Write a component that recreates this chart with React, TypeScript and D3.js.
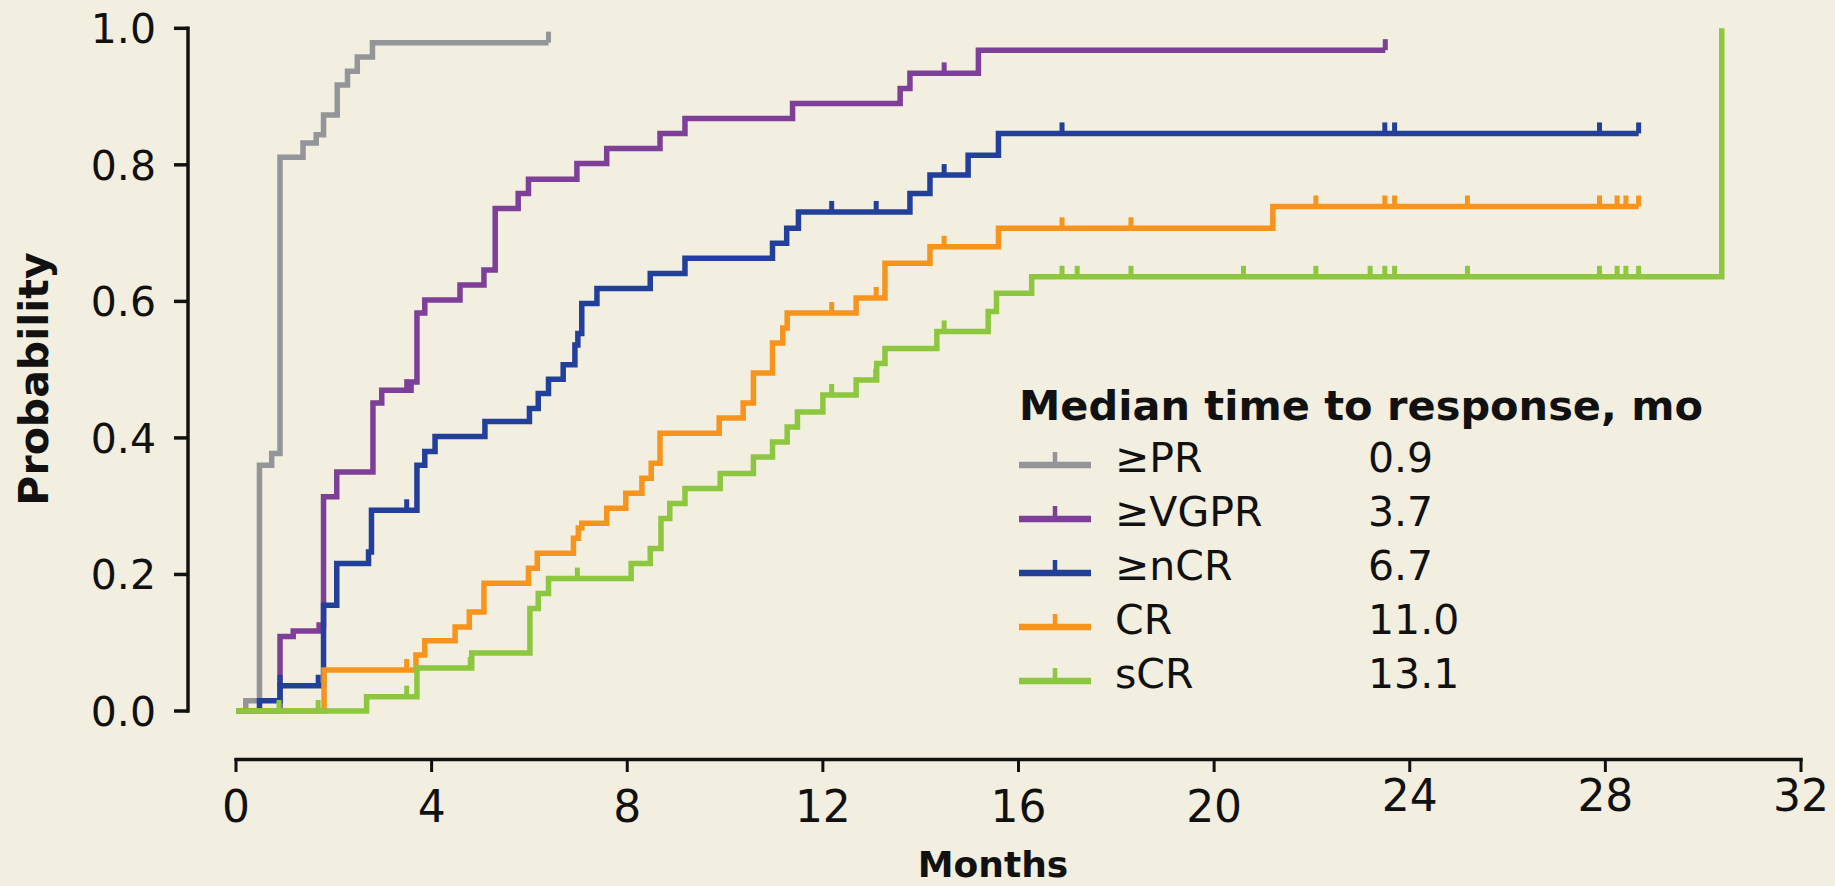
import React from "react";
import * as d3 from "d3";

const xTicks = [0, 4, 8, 12, 16, 20, 24, 28, 32];
const yTicks = [0, 0.2, 0.4, 0.6, 0.8, 1.0];

const seriesNames = ["≥PR", "≥VGPR", "≥nCR", "CR", "sCR"];
const medians = ["0.9", "3.7", "6.7", "11.0", "13.1"];
const colors = ["#939598", "#7e3f98", "#22409a", "#f7941d", "#8dc63f"];

const prTimes = [0.2, 0.48, 0.73, 0.9, 1.37, 1.64, 1.79, 2.07, 2.28, 2.48, 2.79];
const prValues = [0.015, 0.36, 0.377, 0.811, 0.832, 0.844, 0.873, 0.917, 0.937, 0.958, 0.979];
const prCensor = [6.39];
const prEnd = 6.39;

const vgprTimes = [0.9, 1.17, 1.7, 1.79, 2.06, 2.8, 2.98, 3.58, 3.7, 3.86, 4.58, 5.07, 5.3, 5.77, 5.98, 6.97, 7.58, 8.67, 9.18, 11.38, 13.58, 13.78, 15.18];
const vgprValues = [0.109, 0.117, 0.126, 0.314, 0.35, 0.451, 0.47, 0.482, 0.583, 0.602, 0.624, 0.646, 0.736, 0.758, 0.779, 0.802, 0.824, 0.846, 0.868, 0.89, 0.912, 0.934, 0.968];
const vgprCensor = [3.49, 14.48, 23.5];
const vgprEnd = 23.5;

const ncrTimes = [0.48, 0.9, 1.79, 2.06, 2.71, 2.77, 3.7, 3.86, 4.07, 5.09, 6.0, 6.18, 6.39, 6.69, 6.93, 6.99, 7.07, 7.38, 8.47, 9.18, 10.97, 11.26, 11.5, 13.78, 14.19, 14.97, 15.59];
const ncrValues = [0.015, 0.037, 0.155, 0.216, 0.233, 0.294, 0.36, 0.38, 0.402, 0.424, 0.443, 0.465, 0.486, 0.507, 0.536, 0.553, 0.597, 0.619, 0.641, 0.663, 0.685, 0.707, 0.731, 0.758, 0.785, 0.814, 0.846];
const ncrCensor = [0.9, 1.68, 3.49, 12.18, 13.09, 14.48, 16.89, 23.49, 23.69, 27.88, 28.68];
const ncrEnd = 28.68;

const crTimes = [1.8, 3.68, 3.86, 4.48, 4.77, 5.07, 5.98, 6.16, 6.9, 7.0, 7.07, 7.58, 7.97, 8.3, 8.49, 8.67, 9.88, 10.37, 10.58, 10.97, 11.18, 11.27, 12.68, 13.27, 14.19, 15.59, 21.2];
const crValues = [0.06, 0.082, 0.103, 0.123, 0.145, 0.187, 0.209, 0.231, 0.253, 0.268, 0.275, 0.297, 0.319, 0.341, 0.363, 0.407, 0.429, 0.451, 0.495, 0.539, 0.561, 0.583, 0.605, 0.656, 0.68, 0.707, 0.739];
const crCensor = [3.49, 12.18, 13.09, 14.48, 16.89, 18.3, 22.08, 23.49, 23.69, 25.18, 27.88, 28.24, 28.42, 28.68];
const crEnd = 28.68;

const scrTimes = [2.67, 3.7, 4.82, 6.01, 6.18, 6.39, 8.08, 8.47, 8.69, 8.87, 9.18, 9.9, 10.58, 10.97, 11.27, 11.48, 12.0, 12.68, 13.1, 13.27, 14.33, 15.38, 15.55, 16.27, 30.38];
const scrValues = [0.021, 0.063, 0.085, 0.15, 0.172, 0.194, 0.216, 0.238, 0.282, 0.304, 0.326, 0.348, 0.372, 0.394, 0.416, 0.438, 0.463, 0.485, 0.509, 0.531, 0.556, 0.585, 0.612, 0.636, 1.0];
const scrCensor = [0.88, 1.68, 3.49, 4.79, 6.98, 12.18, 13.08, 14.48, 16.89, 17.2, 18.3, 20.6, 22.08, 23.19, 23.49, 23.69, 25.18, 27.88, 28.24, 28.42, 28.68];
const scrEnd = 30.38;

const allTimes = [prTimes, vgprTimes, ncrTimes, crTimes, scrTimes];
const allValues = [prValues, vgprValues, ncrValues, crValues, scrValues];
const allCensor = [prCensor, vgprCensor, ncrCensor, crCensor, scrCensor];
const allEnds = [prEnd, vgprEnd, ncrEnd, crEnd, scrEnd];

const W = 1835;
const H = 886;
const FONT = "'DejaVu Sans', Verdana, sans-serif";

export default function App() {
  const x = d3.scaleLinear().domain([0, 32]).range([236, 1801]);
  const y = d3.scaleLinear().domain([0, 1]).range([711, 28.3]);
  const line = d3
    .line<[number, number]>()
    .x((d) => x(d[0]))
    .y((d) => y(d[1]))
    .curve(d3.curveStepAfter);

  const valueAt = (times: number[], values: number[], t: number) => {
    let v = 0;
    for (let i = 0; i < times.length; i++) if (times[i] <= t + 1e-9) v = values[i];
    return v;
  };

  const axisY = 759.5;
  const axisX = 188;
  const lw = 5.5;
  const tickH = 11;

  return (
    <svg
      width={W}
      height={H}
      style={{ position: "absolute", left: 0, top: 0, display: "block" }}
      fontFamily={FONT}
    >
      <rect x={0} y={0} width={W} height={H} fill="#f2eee0" />

      {/* Y axis */}
      <line x1={axisX} x2={axisX} y1={y(1)} y2={y(0)} stroke="#111" strokeWidth={3.5} strokeLinecap="square" />
      {yTicks.map((t) => (
        <g key={"yt" + t}>
          <line x1={174} x2={axisX} y1={y(t)} y2={y(t)} stroke="#111" strokeWidth={3.5} />
          <text x={156} y={y(t)} dy="0.36em" textAnchor="end" fontSize={41} fill="#111">
            {t.toFixed(1)}
          </text>
        </g>
      ))}
      <text
        transform={`translate(48, 379) rotate(-90)`}
        textAnchor="middle"
        fontSize={41}
        fontWeight="bold"
        fill="#111"
      >
        Probability
      </text>

      {/* X axis */}
      <line x1={x(0)} x2={x(32)} y1={axisY} y2={axisY} stroke="#111" strokeWidth={3.5} strokeLinecap="square" />
      {xTicks.map((t) => (
        <g key={"xt" + t}>
          <line x1={x(t)} x2={x(t)} y1={axisY} y2={772} stroke="#111" strokeWidth={3} />
          <text x={x(t)} y={t >= 24 ? 811 : 822} textAnchor="middle" fontSize={44} fill="#111">
            {t}
          </text>
        </g>
      ))}
      <text x={993} y={877} textAnchor="middle" fontSize={36} fontWeight="bold" fill="#111">
        Months
      </text>

      {/* Curves */}
      {allTimes.map((times, i) => {
        const pts: [number, number][] = [[0, 0]];
        times.forEach((t, j) => pts.push([t, allValues[i][j]]));
        const last = pts[pts.length - 1];
        if (allEnds[i] > last[0]) pts.push([allEnds[i], last[1]]);
        return (
          <g key={"s" + i}>
            <path d={line(pts) || ""} fill="none" stroke={colors[i]} strokeWidth={lw} strokeLinejoin="miter" />
            {allCensor[i].map((c, k) => {
              const v = valueAt(times, allValues[i], c);
              return (
                <line
                  key={k}
                  x1={x(c)}
                  x2={x(c)}
                  y1={y(v)}
                  y2={y(v) - tickH}
                  stroke={colors[i]}
                  strokeWidth={5}
                />
              );
            })}
          </g>
        );
      })}

      {/* Legend */}
      <text x={1019} y={420} fontSize={41.5} fontWeight="bold" fill="#111">
        Median time to response, mo
      </text>
      {seriesNames.map((name, i) => {
        const base = 472 + i * 54;
        const sy = base - 7;
        return (
          <g key={"lg" + i}>
            <line x1={1019} x2={1091} y1={sy} y2={sy} stroke={colors[i]} strokeWidth={6.5} />
            <line x1={1055} x2={1055} y1={sy} y2={sy - 13} stroke={colors[i]} strokeWidth={4.5} />
            <text x={1115} y={base} fontSize={41} fill="#111">
              {name}
            </text>
            <text x={1368} y={base} fontSize={41} fill="#111">
              {medians[i]}
            </text>
          </g>
        );
      })}
    </svg>
  );
}
